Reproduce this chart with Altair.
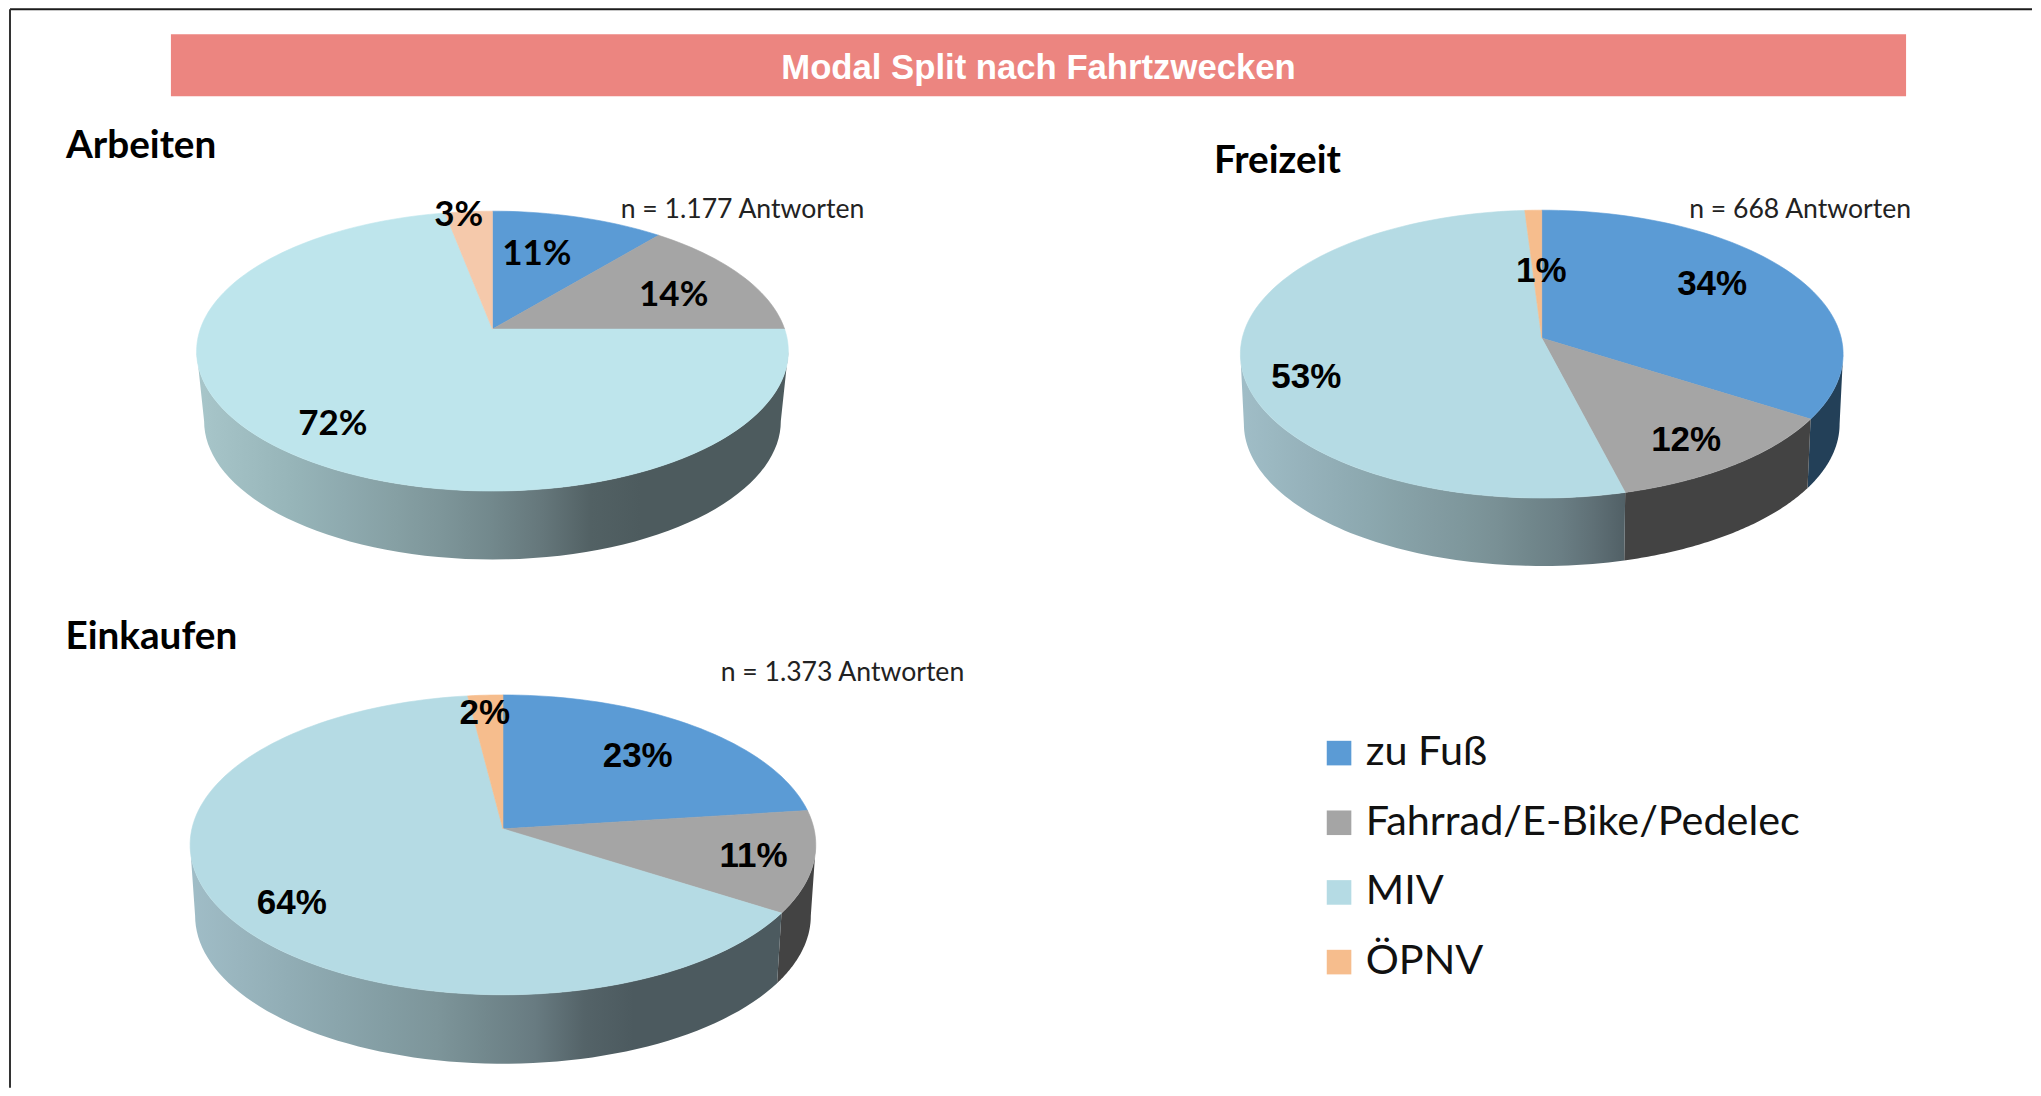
import math
import altair as alt
import pandas as pd

# ---- values ----
MODES = ["zu Fuß", "Fahrrad/E-Bike/Pedelec", "MIV", "ÖPNV"]
ARBEITEN = [11, 14, 72, 3]
FREIZEIT = [34, 12, 53, 1]
EINKAUFEN = [23, 11, 64, 2]
NOTES = ["n = 1.177 Antworten", "n = 668 Antworten", "n = 1.373 Antworten"]
PIE_NAMES = ["Arbeiten", "Freizeit", "Einkaufen"]
TITLE = "Modal Split nach Fahrtzwecken"

# ---- colours ----
BASE = ["#5B9BD5", "#A5A5A5", "#B5DBE4", "#F6BD8D"]
ARBEITEN_TOP = ["#5B9BD5", "#A5A5A5", "#BEE5EC", "#F5C9AB"]
SIDE_SOLID = ["#234058", "#434343", None, "#8A6A4E"]
GRAD_A = [(0, "#A8C6CA"), (.2, "#93B0B5"), (.4, "#7F989C"), (.55, "#6C8084"), (.69, "#4D5B5E"), (1, "#4D5B5E")]
GRAD_B = [(0, "#A0BDC7"), (.2, "#8DA9B0"), (.4, "#7C9499"), (.55, "#687B81"), (.66, "#4C5A5F"), (1, "#4C5A5F")]

# ---- layout, in picture pixels ----
MARGIN = 8
VIEW_W, VIEW_H = 2025, 1080
PIES = [
    dict(name="Arbeiten", vals=ARBEITEN, cx=492.7, cy=351, rx=296, ry=140, ay=329, bot=70, rxb=288.5, ryb=138.5,
         top=ARBEITEN_TOP, grad=GRAD_A),
    dict(name="Freizeit", vals=FREIZEIT, cx=1542.5, cy=354, rx=301.5, ry=144, ay=338, bot=70, rxb=298, ryb=142,
         top=BASE, grad=GRAD_B),
    dict(name="Einkaufen", vals=EINKAUFEN, cx=503.2, cy=845, rx=313, ry=150, ay=829, bot=71, rxb=308, ryb=148,
         top=BASE, grad=GRAD_B),
]
LABEL_POS = {
    "Arbeiten": [(537, 254), (674, 295), (333, 424), (459, 215)],
    "Freizeit": [(1713, 284), (1687, 440), (1307, 377), (1542, 271)],
    "Einkaufen": [(638, 756), (754, 856), (292, 903), (485, 713)],
}
LABEL_FONT = {"Arbeiten": ("Lato", 35), "Freizeit": ("Liberation Sans", 35), "Einkaufen": ("Liberation Sans", 35)}
HEAD_POS = [(66, 145.5), (1214.5, 161), (65.5, 637)]
NOTE_POS = [(621, 209.5), (1690, 209.5), (721, 673.5)]

X = alt.X("x:Q", scale=alt.Scale(domain=[MARGIN, MARGIN + VIEW_W], nice=False, zero=False), axis=None)
Y = alt.Y("y:Q", scale=alt.Scale(domain=[MARGIN + VIEW_H, MARGIN], nice=False, zero=False), axis=None)


def rim(pie, theta, bottom=False):
    """Perspective position on the rim for a clockwise angle from 12 o'clock."""
    v0 = (pie["ay"] - pie["cy"]) / pie["ry"]
    a, b = math.sin(theta), -math.cos(theta)
    d = 1 + b * v0
    u, v = a * math.sqrt(1 - v0 * v0) / d, (b + v0) / d
    if bottom:
        return pie["cx"] + u * pie["rxb"], pie["cy"] + pie["bot"] + v * pie["ryb"]
    return pie["cx"] + u * pie["rx"], pie["cy"] + v * pie["ry"]


def mix(c1, c2, t):
    p = [int(c1[i:i + 2], 16) for i in (1, 3, 5)]
    q = [int(c2[i:i + 2], 16) for i in (1, 3, 5)]
    return "#%02x%02x%02x" % tuple(round(p[i] + (q[i] - p[i]) * t) for i in range(3))


def grad_at(stops, t):
    for (t0, c0), (t1, c1) in zip(stops, stops[1:]):
        if t <= t1:
            return mix(c0, c1, (t - t0) / (t1 - t0) if t1 > t0 else 0)
    return stops[-1][1]


layers = []

# banner
banner = pd.DataFrame({"x": [171], "x2": [1907], "y": [34], "y2": [96]})
layers.append(alt.Chart(banner).mark_rect(color="#EC8580").encode(x=X, x2="x2:Q", y=Y, y2="y2:Q"))

# frame: the top line is kept just inside the drawing area
frame_h = pd.DataFrame({"x": [10], "x2": [MARGIN + VIEW_W], "y": [9]})
frame_v = pd.DataFrame({"x": [10], "y": [9], "y2": [MARGIN + VIEW_H]})
layers.append(alt.Chart(frame_h).mark_rule(color="#1c1c1c", strokeWidth=2).encode(x=X, x2="x2:Q", y=Y))
layers.append(alt.Chart(frame_v).mark_rule(color="#333333", strokeWidth=2).encode(x=X, y=Y, y2="y2:Q"))

# side walls
for pie in PIES:
    v0 = (pie["ay"] - pie["cy"]) / pie["ry"]
    front0 = math.acos(v0)
    front1 = 2 * math.pi - front0
    left = pie["cx"] - pie["rx"]
    span = 2 * pie["rx"]
    cum = 0
    for k, val in enumerate(pie["vals"]):
        t0 = max(cum / 100 * 2 * math.pi, front0)
        t1 = min((cum + val) / 100 * 2 * math.pi, front1)
        cum += val
        if t1 <= t0:
            continue
        n = 70
        thetas = [t0 + (t1 - t0) * i / n for i in range(n + 1)]
        pts = [rim(pie, t) for t in thetas] + [rim(pie, t, True) for t in reversed(thetas)]
        poly = pd.DataFrame({"x": [p[0] for p in pts], "y": [p[1] for p in pts], "i": range(len(pts))})
        if SIDE_SOLID[k]:
            fill = SIDE_SOLID[k]
        else:
            x0, x1 = poly.x.min(), poly.x.max()
            stops = []
            for j in range(13):
                o = j / 12
                c = grad_at(pie["grad"], (x0 + (x1 - x0) * o - left) / span)
                stops.append(alt.GradientStop(offset=o, color=c))
            fill = alt.Gradient(gradient="linear", stops=stops, x1=0, x2=1, y1=0, y2=0)
        layers.append(
            alt.Chart(poly).mark_line(filled=True, fill=fill, stroke=None, interpolate="linear-closed")
            .encode(x=X, y=Y, order="i:Q")
        )

# top faces
rows, rows_arb = [], []
for pie in PIES:
    cum = 0
    for k, val in enumerate(pie["vals"]):
        t0, t1 = cum / 100 * 2 * math.pi, (cum + val) / 100 * 2 * math.pi
        cum += val
        n = max(6, int(val * 2))
        pts = [(pie["cx"], pie["ay"])] + [rim(pie, t0 + (t1 - t0) * i / n) for i in range(n + 1)]
        for i, (px, py) in enumerate(pts):
            row = dict(x=px, y=py, i=i, Modus=MODES[k], slice=f"{pie['name']}-{k}", farbe=pie["top"][k])
            (rows_arb if pie["name"] == "Arbeiten" else rows).append(row)

scale = alt.Scale(domain=MODES, range=BASE)
layers.append(
    alt.Chart(pd.DataFrame(rows_arb)).mark_line(filled=True, interpolate="linear-closed", strokeWidth=0.6)
    .encode(x=X, y=Y, order="i:Q", detail="slice:N",
            fill=alt.Fill("farbe:N", scale=None), stroke=alt.Stroke("farbe:N", scale=None))
)
layers.append(
    alt.Chart(pd.DataFrame(rows)).mark_line(filled=True, interpolate="linear-closed", strokeWidth=0.6)
    .encode(x=X, y=Y, order="i:Q", detail="slice:N",
            fill=alt.Fill("Modus:N", scale=scale, sort=MODES, legend=alt.Legend(
                orient="none", legendX=1311, legendY=724.5, title=None, padding=0,
                symbolType="square", symbolSize=605, symbolStrokeWidth=0, symbolOpacity=1,
                labelFont="Lato", labelFontSize=41.4, labelColor="#111111", labelLimit=600,
                labelOffset=6, rowPadding=26.7, values=MODES)),
            stroke=alt.Stroke("Modus:N", scale=scale, legend=None))
)

# percentage labels
lab = []
for pie in PIES:
    font, size = LABEL_FONT[pie["name"]]
    for (lx, ly), val in zip(LABEL_POS[pie["name"]], pie["vals"]):
        lab.append(dict(x=lx, y=ly, t=f"{val}%", font=font, size=size))
lab = pd.DataFrame(lab)
for font, size in sorted(set(zip(lab.font, lab["size"]))):
    sub = lab[lab.font == font]
    layers.append(
        alt.Chart(sub).mark_text(font=font, fontSize=int(size), fontWeight="bold", color="#000000",
                                 align="center", baseline="middle")
        .encode(x=X, y=Y, text="t:N")
    )

# headings, notes, title
head = pd.DataFrame({"x": [p[0] for p in HEAD_POS], "y": [p[1] for p in HEAD_POS], "t": PIE_NAMES})
layers.append(alt.Chart(head).mark_text(font="Lato", fontSize=38.7, fontWeight="bold", color="#000000",
                                        align="left", baseline="middle").encode(x=X, y=Y, text="t:N"))
notes = pd.DataFrame({"x": [p[0] for p in NOTE_POS], "y": [p[1] for p in NOTE_POS], "t": NOTES})
layers.append(alt.Chart(notes).mark_text(font="Lato", fontSize=26.6, color="#222222",
                                         align="left", baseline="middle").encode(x=X, y=Y, text="t:N"))
ttl = pd.DataFrame({"x": [1039], "y": [68.5], "t": [TITLE]})
layers.append(alt.Chart(ttl).mark_text(font="Liberation Sans", fontSize=34.7, fontWeight="bold", color="#FFFFFF",
                                       align="center", baseline="middle").encode(x=X, y=Y, text="t:N"))

chart = (
    alt.layer(*layers)
    .resolve_scale(fill="independent", stroke="independent")
    .properties(width=VIEW_W, height=VIEW_H, padding=0, background="#FFFFFF")
    .configure_view(stroke=None)
)
chart.save("out.html", embed_options={"renderer": "svg", "actions": False})
